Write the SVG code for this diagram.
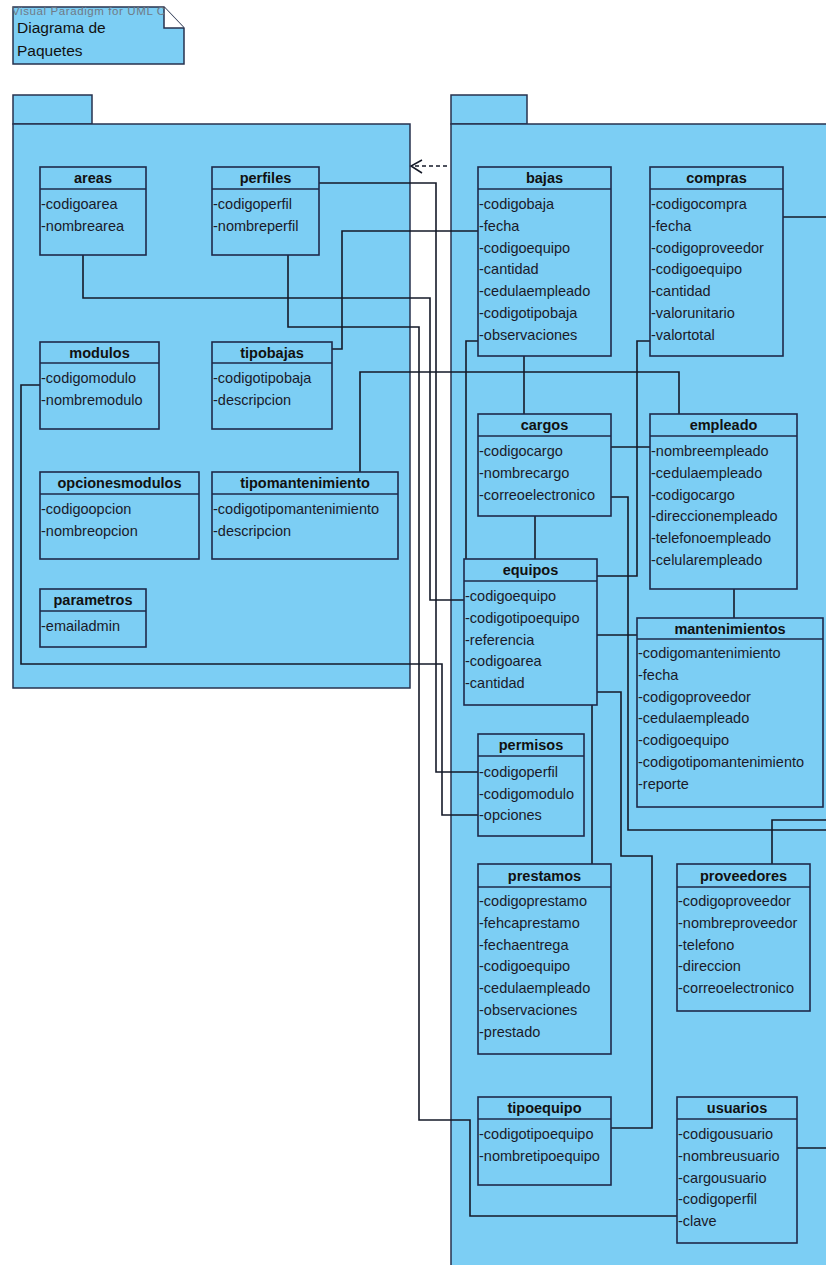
<svg xmlns="http://www.w3.org/2000/svg" width="826" height="1265" viewBox="0 0 826 1265">
<style>
.pkg{fill:#7CCEF4;stroke:#27324E;stroke-width:1.5}
.box{fill:#7CCEF4;stroke:#1E2A4A;stroke-width:1.6}
.sep{stroke:#1E2A4A;stroke-width:1.6}
.hd{font-family:"Liberation Sans",Arial,sans-serif;font-size:14.5px;font-weight:bold;fill:#111;text-anchor:middle}
.at{font-family:"Liberation Sans",Arial,sans-serif;font-size:14.5px;fill:#1a1a2a}
.cn{fill:none;stroke:#151a28;stroke-width:1.6}
.note{font-family:"Liberation Sans",Arial,sans-serif;font-size:15.5px;fill:#111}
</style>
<rect width="826" height="1265" fill="#fff"/>

<!-- note -->
<g id="note">
<path d="M13,7 L164,7 L184,28 L184,64 L13,64 Z" class="pkg"/>
<path d="M164,7 L164,28 L184,28" fill="#fff" stroke="#27324E" stroke-width="1.5"/>
<text x="12" y="15" font-family="Liberation Sans, Arial, sans-serif" font-size="11.5" letter-spacing="0.6" fill="#6f7a86">Visual Paradigm for UML C</text>
<text x="17" y="33" class="note">Diagrama de</text>
<text x="17" y="56" class="note">Paquetes</text>
</g>

<!-- packages -->
<g id="pkg-left">
<rect x="13" y="95" width="79" height="29" class="pkg"/>
<rect x="13" y="124" width="397" height="564" class="pkg"/>
</g>
<g id="pkg-right">
<rect x="451" y="95" width="76" height="29" class="pkg"/>
<rect x="451" y="124" width="380" height="1150" class="pkg"/>
</g>

<!-- connectors -->
<g id="connectors">
<path class="cn" d="M319,183 H436 V772 H478"/>
<path class="cn" d="M332,349 H342 V231 H478"/>
<path class="cn" d="M83,255 V298 H430 V600 H464"/>
<path class="cn" d="M288,255 V327 H419 V1120 H470 V1216 H677"/>
<path class="cn" d="M40,385 H21 V664 H442 V815 H478"/>
<path class="cn" d="M360,472 V372 H679 V414"/>
<path class="cn" d="M478,341 H466 V559"/>
<path class="cn" d="M524,356 V414"/>
<path class="cn" d="M650,341 H637 V576 H597"/>
<path class="cn" d="M611,447 H650"/>
<path class="cn" d="M611,497 H628 V830 H830"/>
<path class="cn" d="M535,516 V559"/>
<path class="cn" d="M734,589 V618"/>
<path class="cn" d="M597,635 H637"/>
<path class="cn" d="M597,692 H621 V856 H652 V1128 H611"/>
<path class="cn" d="M592,705 V864"/>
<path class="cn" d="M830,820 H772 V864"/>
<path class="cn" d="M783,217 H830"/>
<path class="cn" d="M797,1148 H830"/>
<path d="M447,166 H413" fill="none" stroke="#151a28" stroke-width="1.5" stroke-dasharray="4,3"/>
<path d="M422,160 L411,166 L422,173" fill="none" stroke="#151a28" stroke-width="1.5"/>
</g>

<!-- classes left package -->
<g id="areas">
<rect x="40" y="167" width="106" height="88" class="box"/><line x1="40" y1="189" x2="146" y2="189" class="sep"/>
<text x="93" y="183" class="hd">areas</text>
<text x="41" y="209" class="at">-codigoarea</text>
<text x="41" y="231" class="at">-nombrearea</text>
</g>
<g id="perfiles">
<rect x="212" y="167" width="107" height="88" class="box"/><line x1="212" y1="189" x2="319" y2="189" class="sep"/>
<text x="265.5" y="183" class="hd">perfiles</text>
<text x="213" y="209" class="at">-codigoperfil</text>
<text x="213" y="231" class="at">-nombreperfil</text>
</g>
<g id="modulos">
<rect x="40" y="342" width="119" height="87" class="box"/><line x1="40" y1="363" x2="159" y2="363" class="sep"/>
<text x="99.5" y="358" class="hd">modulos</text>
<text x="41" y="383" class="at">-codigomodulo</text>
<text x="41" y="405" class="at">-nombremodulo</text>
</g>
<g id="tipobajas">
<rect x="212" y="342" width="120" height="87" class="box"/><line x1="212" y1="363" x2="332" y2="363" class="sep"/>
<text x="272" y="358" class="hd">tipobajas</text>
<text x="213" y="383" class="at">-codigotipobaja</text>
<text x="213" y="405" class="at">-descripcion</text>
</g>
<g id="opcionesmodulos">
<rect x="40" y="472" width="159" height="87" class="box"/><line x1="40" y1="494" x2="199" y2="494" class="sep"/>
<text x="119.5" y="488" class="hd">opcionesmodulos</text>
<text x="41" y="514" class="at">-codigoopcion</text>
<text x="41" y="536" class="at">-nombreopcion</text>
</g>
<g id="tipomantenimiento">
<rect x="212" y="472" width="186" height="87" class="box"/><line x1="212" y1="494" x2="398" y2="494" class="sep"/>
<text x="305" y="488" class="hd">tipomantenimiento</text>
<text x="213" y="514" class="at">-codigotipomantenimiento</text>
<text x="213" y="536" class="at">-descripcion</text>
</g>
<g id="parametros">
<rect x="40" y="589" width="106" height="58" class="box"/><line x1="40" y1="611" x2="146" y2="611" class="sep"/>
<text x="93" y="605" class="hd">parametros</text>
<text x="41" y="631" class="at">-emailadmin</text>
</g>

<!-- classes right package -->
<g id="bajas">
<rect x="478" y="167" width="133" height="189" class="box"/><line x1="478" y1="189" x2="611" y2="189" class="sep"/>
<text x="544.5" y="183" class="hd">bajas</text>
<text x="479" y="209" class="at">-codigobaja</text>
<text x="479" y="231" class="at">-fecha</text>
<text x="479" y="252.5" class="at">-codigoequipo</text>
<text x="479" y="274" class="at">-cantidad</text>
<text x="479" y="296" class="at">-cedulaempleado</text>
<text x="479" y="318" class="at">-codigotipobaja</text>
<text x="479" y="340" class="at">-observaciones</text>
</g>
<g id="compras">
<rect x="650" y="167" width="133" height="189" class="box"/><line x1="650" y1="189" x2="783" y2="189" class="sep"/>
<text x="716.5" y="183" class="hd">compras</text>
<text x="651" y="209" class="at">-codigocompra</text>
<text x="651" y="231" class="at">-fecha</text>
<text x="651" y="252.5" class="at">-codigoproveedor</text>
<text x="651" y="274" class="at">-codigoequipo</text>
<text x="651" y="296" class="at">-cantidad</text>
<text x="651" y="318" class="at">-valorunitario</text>
<text x="651" y="340" class="at">-valortotal</text>
</g>
<g id="cargos">
<rect x="478" y="414" width="133" height="102" class="box"/><line x1="478" y1="436" x2="611" y2="436" class="sep"/>
<text x="544.5" y="430" class="hd">cargos</text>
<text x="479" y="456" class="at">-codigocargo</text>
<text x="479" y="478" class="at">-nombrecargo</text>
<text x="479" y="499.5" class="at">-correoelectronico</text>
</g>
<g id="empleado">
<rect x="650" y="414" width="147" height="175" class="box"/><line x1="650" y1="436" x2="797" y2="436" class="sep"/>
<text x="723.5" y="430" class="hd">empleado</text>
<text x="651" y="456" class="at">-nombreempleado</text>
<text x="651" y="478" class="at">-cedulaempleado</text>
<text x="651" y="499.5" class="at">-codigocargo</text>
<text x="651" y="521" class="at">-direccionempleado</text>
<text x="651" y="543" class="at">-telefonoempleado</text>
<text x="651" y="565" class="at">-celularempleado</text>
</g>
<g id="equipos">
<rect x="464" y="559" width="133" height="146" class="box"/><line x1="464" y1="581" x2="597" y2="581" class="sep"/>
<text x="530.5" y="575" class="hd">equipos</text>
<text x="465" y="601" class="at">-codigoequipo</text>
<text x="465" y="623" class="at">-codigotipoequipo</text>
<text x="465" y="644.5" class="at">-referencia</text>
<text x="465" y="666" class="at">-codigoarea</text>
<text x="465" y="688" class="at">-cantidad</text>
</g>
<g id="mantenimientos">
<rect x="637" y="618" width="186" height="189" class="box"/><line x1="637" y1="639" x2="823" y2="639" class="sep"/>
<text x="730" y="634" class="hd">mantenimientos</text>
<text x="638" y="658" class="at">-codigomantenimiento</text>
<text x="638" y="680" class="at">-fecha</text>
<text x="638" y="701.5" class="at">-codigoproveedor</text>
<text x="638" y="723" class="at">-cedulaempleado</text>
<text x="638" y="745" class="at">-codigoequipo</text>
<text x="638" y="767" class="at">-codigotipomantenimiento</text>
<text x="638" y="788.5" class="at">-reporte</text>
</g>
<g id="permisos">
<rect x="478" y="734" width="106" height="102" class="box"/><line x1="478" y1="756" x2="584" y2="756" class="sep"/>
<text x="531" y="750" class="hd">permisos</text>
<text x="479" y="777" class="at">-codigoperfil</text>
<text x="479" y="798.5" class="at">-codigomodulo</text>
<text x="479" y="820" class="at">-opciones</text>
</g>
<g id="prestamos">
<rect x="478" y="864" width="133" height="190" class="box"/><line x1="478" y1="887" x2="611" y2="887" class="sep"/>
<text x="544.5" y="881" class="hd">prestamos</text>
<text x="479" y="906" class="at">-codigoprestamo</text>
<text x="479" y="928" class="at">-fehcaprestamo</text>
<text x="479" y="949.5" class="at">-fechaentrega</text>
<text x="479" y="971" class="at">-codigoequipo</text>
<text x="479" y="993" class="at">-cedulaempleado</text>
<text x="479" y="1015" class="at">-observaciones</text>
<text x="479" y="1036.5" class="at">-prestado</text>
</g>
<g id="proveedores">
<rect x="677" y="864" width="133" height="147" class="box"/><line x1="677" y1="887" x2="810" y2="887" class="sep"/>
<text x="743.5" y="881" class="hd">proveedores</text>
<text x="678" y="906" class="at">-codigoproveedor</text>
<text x="678" y="928" class="at">-nombreproveedor</text>
<text x="678" y="949.5" class="at">-telefono</text>
<text x="678" y="971" class="at">-direccion</text>
<text x="678" y="993" class="at">-correoelectronico</text>
</g>
<g id="tipoequipo">
<rect x="478" y="1097" width="133" height="88" class="box"/><line x1="478" y1="1119" x2="611" y2="1119" class="sep"/>
<text x="544.5" y="1113" class="hd">tipoequipo</text>
<text x="479" y="1139" class="at">-codigotipoequipo</text>
<text x="479" y="1161" class="at">-nombretipoequipo</text>
</g>
<g id="usuarios">
<rect x="677" y="1097" width="120" height="146" class="box"/><line x1="677" y1="1119" x2="797" y2="1119" class="sep"/>
<text x="737" y="1113" class="hd">usuarios</text>
<text x="678" y="1139" class="at">-codigousuario</text>
<text x="678" y="1161" class="at">-nombreusuario</text>
<text x="678" y="1182.5" class="at">-cargousuario</text>
<text x="678" y="1204" class="at">-codigoperfil</text>
<text x="678" y="1226" class="at">-clave</text>
</g>
</svg>
